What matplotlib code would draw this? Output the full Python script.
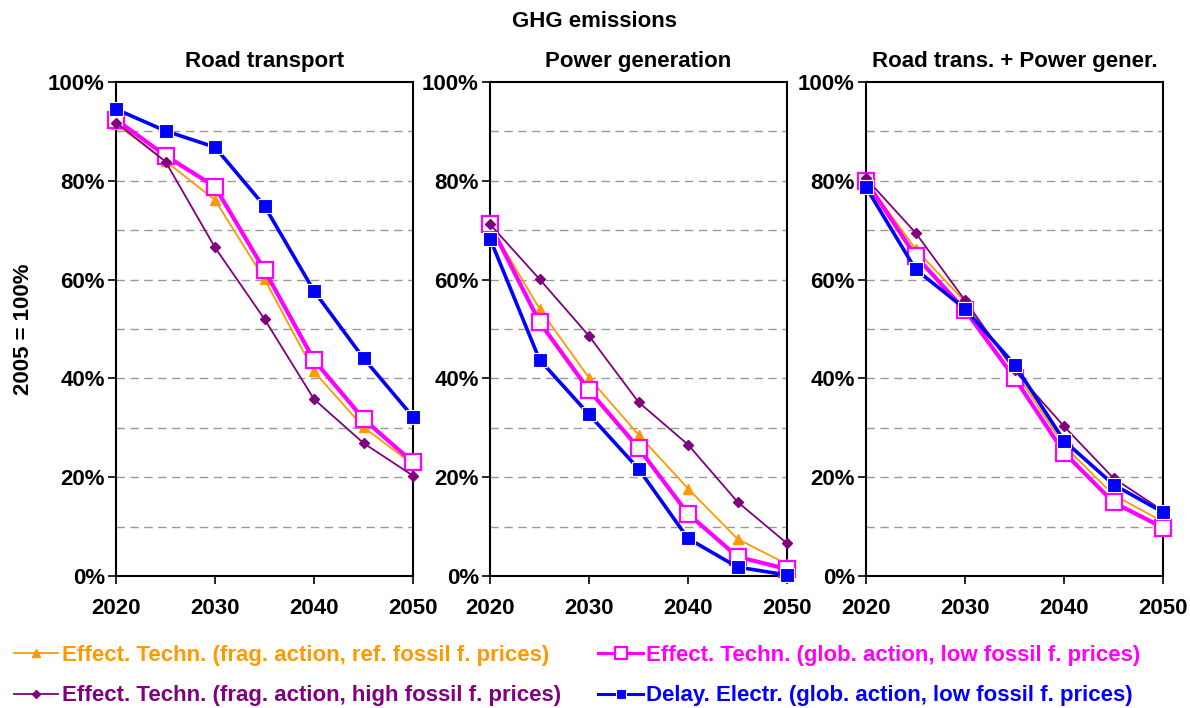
import matplotlib
matplotlib.use("Agg")
import matplotlib.pyplot as plt
from matplotlib.ticker import PercentFormatter, MultipleLocator
from matplotlib.lines import Line2D

plt.rcParams['font.family'] = ['Liberation Sans', 'DejaVu Sans']
plt.rcParams['font.weight'] = 'bold'

years = [2020, 2025, 2030, 2035, 2040, 2045, 2050]
panel_titles = ["Road transport", "Power generation", "Road trans. + Power gener."]

labels = [
    "Effect. Techn. (frag. action, ref. fossil f. prices)",
    "Effect. Techn. (glob. action, low fossil f. prices)",
    "Effect. Techn. (frag. action, high fossil f. prices)",
    "Delay. Electr. (glob. action, low fossil f. prices)",
]

# values in % of 2005, one list per panel
frag_ref = [
    [91.5, 84.0, 76.1, 60.1, 41.4, 30.1, 22.6],
    [71.0, 54.1, 40.1, 28.6, 17.7, 7.5, 2.4],
    [80.0, 66.2, 55.5, 41.6, 26.4, 16.4, 11.0],
]
glob_low = [
    [92.4, 85.1, 78.8, 61.9, 43.7, 31.8, 23.0],
    [71.2, 51.4, 37.6, 25.9, 12.6, 3.9, 1.4],
    [79.9, 64.8, 53.8, 40.1, 25.0, 14.9, 9.8],
]
frag_high = [
    [91.8, 83.9, 66.5, 52.0, 35.8, 26.9, 20.3],
    [71.2, 60.1, 48.6, 35.2, 26.6, 15.0, 6.6],
    [80.5, 69.5, 55.8, 41.6, 30.3, 19.8, 13.2],
]
delay_el = [
    [94.5, 90.1, 86.8, 74.9, 57.7, 44.1, 32.2],
    [68.3, 43.8, 32.7, 21.7, 7.6, 1.8, 0.2],
    [78.7, 62.1, 54.1, 42.8, 27.4, 18.5, 12.9],
]

orange = "#FF9900"
magenta = "#FF00FF"
purple = "#800080"
blue = "#0000FF"

styles = [
    dict(color=orange, lw=1.3, marker='^', ms=7.5, mfc=orange, mec=orange),
    dict(color=magenta, lw=3, marker='s', ms=12, mfc='white', mec=magenta, mew=1.6),
    dict(color=purple, lw=1.3, marker='D', ms=5.5, mfc=purple, mec=purple),
    dict(color=blue, lw=2.6, marker='s', ms=10.5, mfc=blue, mec='white', mew=0.8),
]
series = [frag_ref, glob_low, frag_high, delay_el]

fs = 16
fig = plt.figure(figsize=(11.9, 7.08), dpi=100)
lefts = [116, 490, 866]
width = 297
for i in range(3):
    ax = fig.add_axes([lefts[i] / 1190, 1 - 576 / 708, width / 1190, 494 / 708])
    for gy in range(10, 100, 10):
        ax.axhline(gy, color='#999999', lw=1, ls=(0, (6, 4)), zorder=0)
    for data, st in zip(series, styles):
        ax.plot(years, data[i], clip_on=False, zorder=3, **st)
    ax.set_xlim(2020, 2050)
    ax.set_ylim(0, 100)
    ax.xaxis.set_major_locator(MultipleLocator(10))
    ax.yaxis.set_major_locator(MultipleLocator(20))
    ax.yaxis.set_major_formatter(PercentFormatter(100, decimals=0))
    ax.tick_params(axis='both', direction='out', length=6, width=1.2, labelsize=fs)
    ax.tick_params(axis='x', pad=10)
    ax.tick_params(axis='y', pad=2)
    for lab in ax.get_xticklabels() + ax.get_yticklabels():
        lab.set_fontweight('bold')
    for sp in ax.spines.values():
        sp.set_linewidth(1.5)
    ax.set_title(panel_titles[i], fontsize=fs, fontweight='bold', pad=11)

fig.text(0.5, 0.970, "GHG emissions", ha='center', va='center', fontsize=fs, fontweight='bold')
fig.text(24 / 1190, 1 - 329 / 708, "2005 = 100%", rotation=90, ha='center', va='center',
         fontsize=fs, fontweight='bold')

handles = [Line2D([], [], **st) for st in styles]
for h in handles:
    h.set_markersize(h.get_markersize() * 0.75)
    h.set_linewidth(min(h.get_linewidth(), 2.2))

cols = [(0, 2), (1, 3)]
xs = [-0.005, 0.486]
for (a, b), x0 in zip(cols, xs):
    leg = fig.legend([handles[a], handles[b]], [labels[a], labels[b]], loc='upper left',
                     bbox_to_anchor=(x0, 1 - 625 / 708), frameon=False, fontsize=fs,
                     handlelength=2.0, handletextpad=0.15, labelspacing=0.87)
    for t, c in zip(leg.get_texts(), [styles[a]['color'], styles[b]['color']]):
        t.set_color(c)
        t.set_fontweight('bold')

fig.savefig("out.png", dpi=100)
